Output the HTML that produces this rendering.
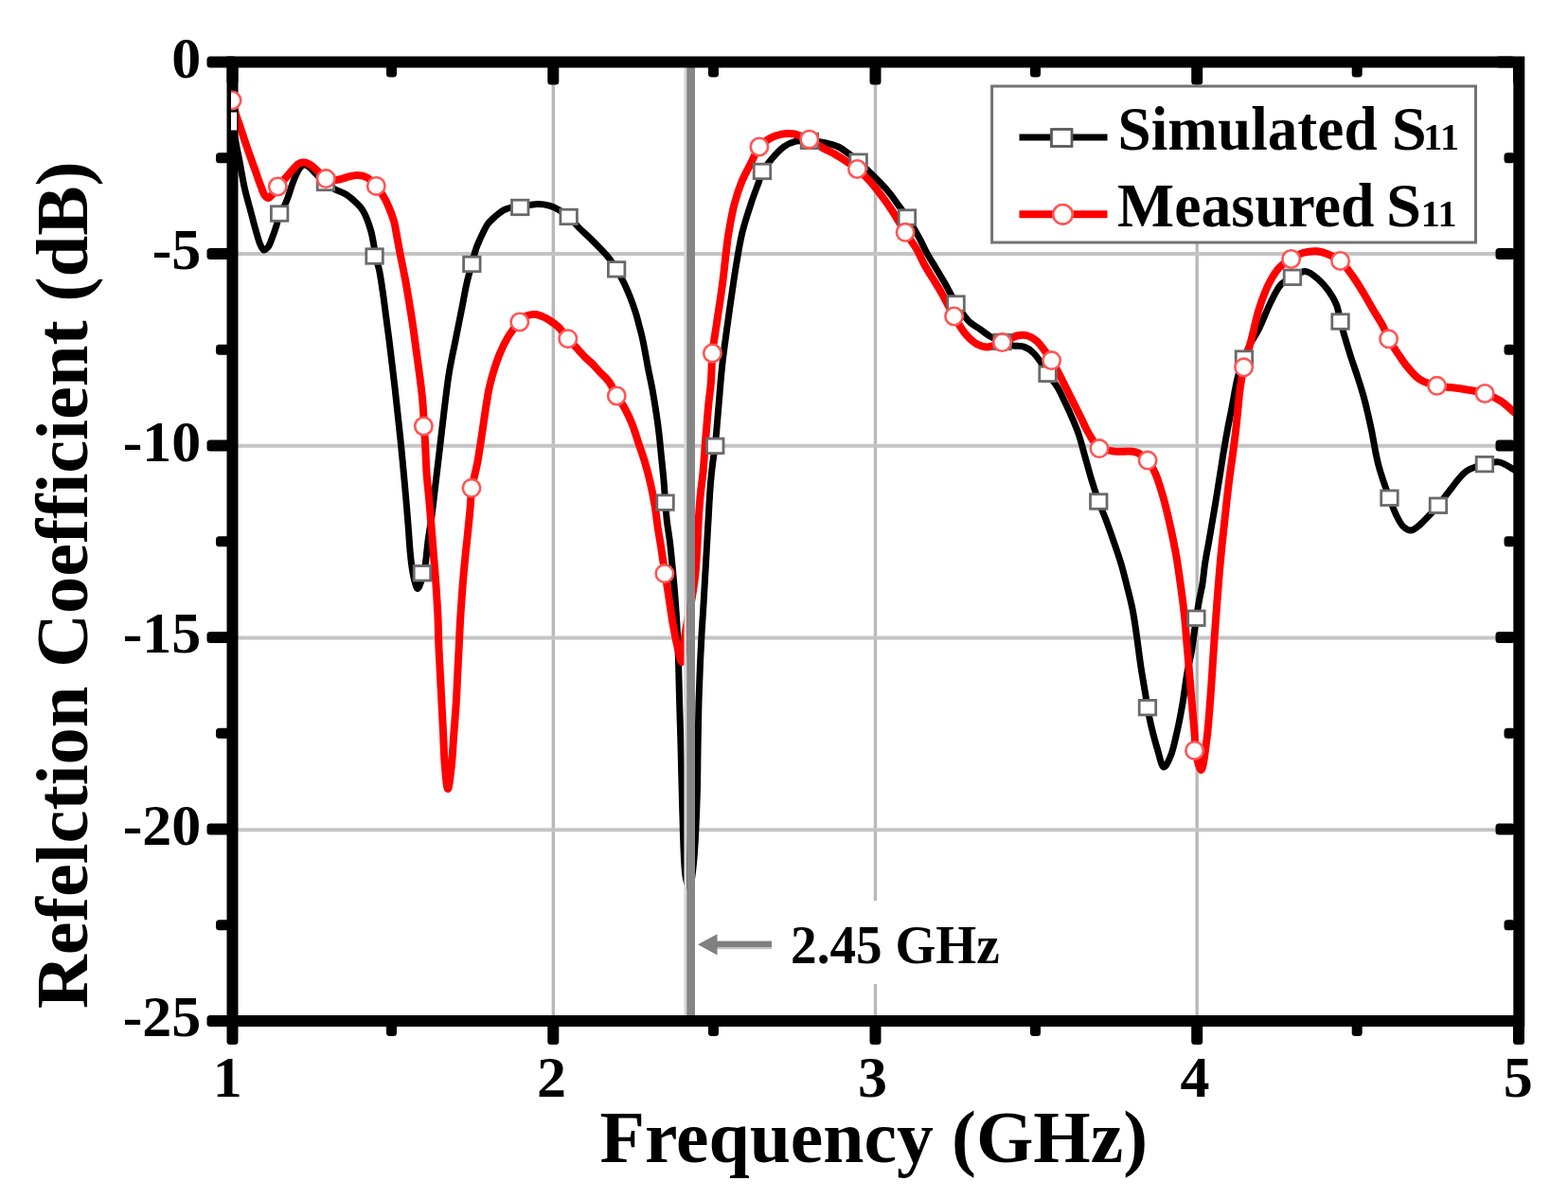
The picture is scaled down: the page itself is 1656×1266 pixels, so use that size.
<!DOCTYPE html>
<html><head><meta charset="utf-8"><title>Reflection Coefficient</title>
<style>html,body{margin:0;padding:0;background:#fff;overflow:hidden}svg{display:block}</style>
</head><body>
<svg width="1656" height="1266" viewBox="0 0 1656 1266">
<rect x="0" y="0" width="1656" height="1266" fill="#fff"/>
<line x1="584.3" y1="71" x2="584.3" y2="1072" stroke="#b9b9b9" stroke-width="3.4"/>
<line x1="924.5" y1="71" x2="924.5" y2="1072" stroke="#b9b9b9" stroke-width="3.4"/>
<line x1="1264.2" y1="71" x2="1264.2" y2="1072" stroke="#b9b9b9" stroke-width="3.4"/>
<line x1="251" y1="268.0" x2="1598" y2="268.0" stroke="#c4c4c4" stroke-width="4"/>
<line x1="251" y1="470.8" x2="1598" y2="470.8" stroke="#c4c4c4" stroke-width="4"/>
<line x1="251" y1="673.4" x2="1598" y2="673.4" stroke="#c4c4c4" stroke-width="4"/>
<line x1="251" y1="876.2" x2="1598" y2="876.2" stroke="#c4c4c4" stroke-width="4"/>
<defs><clipPath id="pa"><rect x="244" y="66" width="1360" height="1012"/></clipPath><clipPath id="pm"><rect x="244" y="66" width="1354" height="1006"/></clipPath></defs>
<g clip-path="url(#pa)">
<path d="M245.0,127.5 C246.3,135.0 247.6,142.5 249.0,150.0 C250.4,157.6 252.0,165.1 253.5,173.0 C255.1,181.5 256.6,191.1 258.5,199.4 C260.2,206.9 262.2,213.6 264.1,220.7 C266.0,227.8 267.9,235.4 269.8,242.0 C271.5,247.9 273.1,254.6 275.0,258.5 C276.1,260.9 277.2,263.7 278.6,264.0 C279.9,264.3 281.7,262.5 283.0,261.0 C284.9,258.8 286.1,254.6 287.5,251.0 C289.1,247.0 290.7,242.3 292.0,238.0 C293.3,233.8 293.6,229.2 295.2,225.5 C296.6,222.3 299.0,220.0 300.5,217.0 C302.0,214.0 303.1,211.0 304.4,207.5 C305.9,203.5 307.2,198.4 308.8,194.2 C310.2,190.3 311.8,186.3 313.3,183.2 C314.5,180.8 315.6,178.6 317.0,177.0 C318.2,175.7 319.4,174.2 320.8,174.0 C322.3,173.8 324.2,174.8 326.0,176.0 C328.6,177.7 331.1,181.3 334.0,184.0 C337.1,187.0 340.7,190.3 344.0,193.0 C347.0,195.4 349.7,197.6 353.0,199.5 C356.6,201.6 361.1,202.6 365.0,205.0 C369.3,207.7 374.2,212.1 377.4,215.3 C379.8,217.6 381.4,219.4 383.0,221.9 C384.7,224.6 386.0,227.5 387.4,230.8 C389.0,234.7 390.6,239.6 391.8,244.0 C393.0,248.3 393.7,252.7 394.5,257.0 C395.3,261.3 395.6,265.5 396.5,270.0 C397.5,274.8 399.3,279.3 400.5,285.0 C402.0,292.2 403.3,301.7 404.5,310.0 C405.7,318.3 406.7,326.7 407.8,335.0 C408.9,343.3 410.0,351.7 411.1,360.0 C412.1,368.3 413.1,376.7 414.1,385.0 C415.1,393.3 416.1,401.7 417.1,410.0 C418.0,418.3 418.9,426.7 419.8,435.0 C420.7,443.3 421.6,451.7 422.5,460.0 C423.4,468.3 424.2,476.7 425.0,485.0 C425.8,493.3 426.5,501.7 427.3,510.0 C428.0,518.3 428.8,526.7 429.5,535.0 C430.2,543.3 430.8,551.7 431.5,560.0 C432.1,568.3 432.6,577.5 433.4,585.0 C434.0,591.2 434.6,596.8 435.5,602.0 C436.2,606.4 436.9,610.5 438.0,614.0 C438.9,616.8 439.9,621.5 441.0,621.5 C442.3,621.5 444.2,615.6 445.5,612.0 C447.0,607.7 448.0,603.0 449.0,597.4 C450.3,589.8 450.9,579.4 452.1,570.6 C453.3,562.0 454.8,553.9 456.0,545.0 C457.3,535.4 458.4,524.5 459.5,515.0 C460.5,506.3 461.5,498.7 462.5,490.0 C463.6,480.5 464.8,470.0 466.0,460.0 C467.2,450.0 468.2,440.7 469.5,430.0 C471.0,417.8 472.7,403.0 474.8,390.6 C476.7,379.5 479.0,369.5 481.1,359.0 C483.2,348.5 485.3,337.7 487.4,327.4 C489.4,317.4 491.2,306.7 493.2,298.0 C494.8,290.9 496.6,285.2 498.3,279.0 C499.9,273.2 501.1,267.4 503.0,262.0 C504.8,256.9 507.1,252.0 509.3,247.5 C511.3,243.5 512.9,239.5 515.4,236.2 C517.8,233.0 520.9,230.5 523.7,228.0 C526.4,225.7 529.1,223.3 531.9,221.8 C534.3,220.5 536.4,219.9 539.0,219.3 C542.1,218.6 545.3,218.8 549.2,218.3 C554.4,217.6 561.9,215.6 567.4,215.5 C572.0,215.4 576.1,216.0 580.0,217.1 C583.6,218.1 586.7,219.6 590.0,221.5 C593.6,223.5 597.2,226.0 600.6,229.0 C604.4,232.3 607.9,236.9 611.6,240.6 C615.2,244.2 619.0,247.5 622.7,251.1 C626.4,254.7 630.2,258.4 633.7,262.1 C637.0,265.6 640.3,268.9 643.2,272.6 C646.1,276.3 648.6,280.3 651.1,284.3 C653.6,288.4 656.1,293.0 658.2,297.1 C660.0,300.7 661.4,303.8 662.9,307.4 C664.5,311.2 666.1,315.2 667.6,319.2 C669.0,323.1 670.4,327.1 671.6,331.1 C672.8,335.0 673.8,339.0 674.8,342.9 C675.9,346.9 676.9,350.6 677.9,354.8 C679.0,359.5 680.0,364.7 681.0,370.0 C682.1,375.6 683.0,381.2 684.2,387.5 C685.6,394.8 687.5,403.3 689.0,411.2 C690.4,419.1 691.7,427.0 692.9,434.9 C694.1,442.8 695.2,450.8 696.1,458.7 C697.0,466.6 697.7,474.5 698.5,482.4 C699.3,490.3 700.2,498.1 700.9,506.1 C701.6,514.2 702.1,523.0 702.7,530.6 C703.2,537.3 703.6,543.0 704.3,549.6 C705.1,556.7 706.4,563.6 707.4,571.6 C708.6,581.2 709.6,592.7 710.6,603.2 C711.6,613.7 712.5,624.3 713.3,634.8 C714.1,645.3 714.8,655.9 715.3,666.4 C715.8,676.9 716.1,686.7 716.5,698.0 C716.9,711.0 717.2,725.6 717.6,740.0 C718.0,755.3 718.5,770.5 719.0,787.4 C719.5,807.0 720.0,831.0 720.6,850.6 C721.1,867.5 721.5,884.9 722.1,898.0 C722.5,907.4 722.8,915.6 723.6,922.0 C724.2,926.4 724.7,930.4 725.8,933.0 C726.5,934.6 727.6,936.6 728.3,936.5 C729.3,936.3 729.8,931.5 730.5,928.0 C731.5,922.4 732.3,914.0 733.0,906.0 C733.8,896.4 734.4,885.5 734.9,874.3 C735.5,861.9 736.0,848.6 736.4,834.8 C736.8,819.7 736.8,803.2 737.1,787.4 C737.4,771.6 737.6,755.1 738.0,740.0 C738.4,726.1 738.9,712.8 739.5,700.0 C740.0,688.3 740.6,677.4 741.2,666.4 C741.8,655.7 742.6,645.3 743.2,634.8 C743.8,624.3 744.4,613.7 745.0,603.2 C745.6,592.7 746.2,581.7 746.8,571.6 C747.3,562.4 747.7,554.5 748.3,545.0 C748.9,534.1 749.6,520.3 750.5,510.0 C751.2,501.8 751.9,494.9 752.8,488.0 C753.6,481.9 754.5,477.4 755.3,470.8 C756.3,462.0 757.1,450.2 758.0,440.0 C758.9,429.9 759.6,419.8 760.5,410.0 C761.3,400.5 762.0,392.0 763.1,382.1 C764.4,370.6 766.4,356.9 768.0,345.0 C769.5,333.9 770.9,323.7 772.5,313.0 C774.1,302.1 775.6,291.0 777.5,280.0 C779.4,268.8 781.1,257.4 783.7,246.4 C786.3,235.6 790.0,224.3 793.2,214.8 C795.8,206.8 798.9,199.0 801.1,193.0 C802.6,188.7 803.0,185.8 805.0,182.0 C807.4,177.3 811.5,171.9 815.3,167.4 C819.1,162.9 823.5,157.9 828.0,154.8 C832.0,152.1 836.2,150.3 840.6,149.2 C845.1,148.1 850.2,148.3 855.0,148.5 C860.0,148.7 865.1,149.5 870.0,150.5 C875.0,151.6 880.4,152.8 884.8,154.8 C888.9,156.7 892.3,159.3 895.9,161.9 C899.6,164.6 902.9,167.4 906.6,170.7 C911.0,174.6 916.2,179.5 920.5,183.7 C924.4,187.5 928.1,191.0 931.6,194.8 C935.0,198.4 938.2,202.1 941.1,205.8 C943.9,209.4 946.3,213.1 949.0,216.9 C951.9,221.0 954.8,224.6 958.0,229.5 C962.1,235.8 967.4,244.8 971.1,251.6 C974.2,257.2 976.1,262.2 979.0,267.4 C981.9,272.7 985.3,277.9 988.5,283.2 C991.6,288.5 994.6,293.3 997.9,299.0 C1001.6,305.5 1005.2,313.3 1009.5,320.0 C1013.8,326.8 1018.7,334.7 1023.5,339.5 C1027.2,343.1 1031.1,344.8 1034.8,347.4 C1038.5,350.0 1041.9,353.0 1045.8,355.3 C1049.7,357.6 1053.9,359.4 1058.0,361.0 C1061.8,362.5 1065.5,363.9 1069.5,364.8 C1073.6,365.7 1078.3,365.0 1082.1,366.4 C1085.7,367.7 1088.9,370.2 1091.6,372.7 C1094.3,375.2 1096.2,378.3 1098.5,381.6 C1101.2,385.5 1103.6,390.4 1106.6,394.8 C1109.7,399.5 1113.9,404.0 1116.9,409.0 C1119.9,414.0 1122.2,419.4 1124.8,424.8 C1127.5,430.4 1130.3,436.5 1132.7,442.2 C1135.0,447.6 1137.0,452.1 1139.0,458.0 C1141.4,465.0 1143.6,473.9 1145.8,481.7 C1148.0,489.3 1149.8,496.5 1152.1,504.2 C1154.6,512.4 1157.5,521.7 1160.3,529.5 C1162.8,536.3 1165.4,541.9 1167.9,548.5 C1170.6,555.6 1173.2,563.1 1175.8,570.6 C1178.5,578.3 1181.3,586.4 1183.7,594.3 C1186.1,602.2 1188.0,610.0 1190.0,618.0 C1192.1,626.2 1194.3,634.6 1196.0,643.0 C1197.7,651.3 1198.7,658.9 1200.0,668.0 C1201.6,678.7 1203.1,692.1 1204.8,703.2 C1206.3,713.2 1208.2,723.6 1209.5,731.6 C1210.5,737.5 1210.9,741.7 1211.9,747.1 C1213.0,753.2 1214.2,759.7 1215.8,766.4 C1217.6,773.9 1219.8,782.6 1222.1,790.1 C1224.3,797.1 1226.5,809.7 1229.2,810.0 C1231.4,810.2 1234.4,802.8 1236.4,798.0 C1239.1,791.6 1240.7,782.8 1242.7,774.3 C1245.0,764.6 1247.2,753.3 1249.0,742.7 C1250.8,732.2 1252.0,720.9 1253.7,711.1 C1255.2,702.6 1257.2,695.2 1258.5,687.4 C1259.8,679.8 1260.7,671.4 1261.6,665.0 C1262.3,660.3 1262.7,657.2 1263.4,652.7 C1264.3,647.1 1265.4,640.0 1266.5,633.9 C1267.5,628.2 1268.8,623.2 1269.8,617.3 C1270.9,610.5 1271.5,602.6 1272.6,595.2 C1273.7,587.8 1275.2,580.5 1276.5,573.1 C1277.8,565.7 1279.1,558.2 1280.3,551.0 C1281.5,544.0 1282.6,537.8 1283.8,530.5 C1285.2,522.0 1286.7,512.1 1288.2,502.9 C1289.7,493.7 1291.1,483.9 1292.6,475.2 C1293.9,467.4 1295.1,460.5 1296.5,453.1 C1297.9,445.7 1299.5,438.2 1300.9,431.0 C1302.2,424.2 1303.3,417.2 1304.5,411.0 C1305.6,405.6 1306.3,401.1 1307.8,396.0 C1309.4,390.3 1311.8,384.2 1314.0,378.5 C1316.2,372.9 1318.4,367.3 1321.0,362.0 C1323.6,356.9 1326.6,353.2 1329.5,347.4 C1333.5,339.6 1337.8,327.4 1342.1,319.0 C1345.7,311.9 1348.8,304.5 1353.2,300.0 C1356.7,296.5 1360.9,295.1 1365.0,292.9 C1369.3,290.6 1374.0,286.2 1378.5,286.5 C1383.2,286.8 1388.5,291.7 1392.7,295.3 C1396.9,298.9 1400.5,303.4 1403.7,307.9 C1406.8,312.3 1409.6,317.0 1411.6,322.1 C1413.7,327.5 1414.1,333.6 1415.6,339.5 C1417.2,345.7 1419.2,352.1 1421.1,358.5 C1423.1,365.2 1425.2,372.3 1427.4,379.0 C1429.5,385.5 1431.7,391.5 1433.8,398.0 C1436.0,404.7 1438.2,411.8 1440.1,418.5 C1441.9,424.9 1443.4,431.4 1444.8,437.5 C1446.1,443.1 1447.0,447.2 1448.4,453.7 C1450.5,463.7 1452.7,479.5 1456.0,491.7 C1459.1,503.5 1463.8,516.1 1467.4,525.8 C1470.1,533.1 1472.3,539.3 1475.0,544.7 C1477.2,549.1 1479.2,553.4 1482.0,556.0 C1484.3,558.1 1487.4,560.1 1490.1,560.0 C1492.8,559.9 1495.7,557.2 1498.0,555.5 C1500.1,554.0 1501.2,552.6 1503.4,550.4 C1507.3,546.5 1514.0,539.6 1519.0,533.7 C1524.1,527.6 1528.6,520.5 1533.7,514.4 C1538.6,508.4 1543.0,501.4 1548.9,497.3 C1554.5,493.5 1561.8,491.7 1567.9,490.1 C1573.1,488.7 1578.1,487.1 1583.0,487.9 C1588.2,488.7 1594.0,493.2 1598.2,495.5 C1601.3,497.1 1603.4,498.5 1606.0,500.0" fill="none" stroke="#000" stroke-width="7" stroke-linejoin="round" stroke-linecap="round"/>
<path d="M245.0,106.0 C246.5,111.3 247.9,116.9 249.5,122.0 C251.0,126.7 252.5,130.5 254.2,135.5 C256.3,141.8 258.9,149.8 261.3,156.8 C263.6,163.6 266.0,170.1 268.4,176.7 C270.8,183.3 273.3,191.1 275.5,196.6 C277.0,200.5 278.1,204.4 279.8,206.5 C280.9,207.8 282.2,209.1 283.5,209.0 C285.0,208.9 286.5,206.7 288.0,205.0 C289.8,202.9 291.2,199.7 293.3,197.0 C295.8,193.8 299.5,190.4 302.5,187.0 C305.4,183.7 308.5,179.6 311.0,177.0 C312.8,175.1 314.1,173.4 316.0,172.5 C317.7,171.7 319.9,171.3 321.7,171.5 C323.5,171.7 325.3,172.6 327.0,173.5 C328.8,174.5 330.3,175.9 332.0,177.3 C334.0,179.0 336.0,181.1 338.0,183.0 C340.1,184.9 342.0,187.4 344.3,188.6 C346.4,189.6 348.7,189.8 351.0,190.0 C353.3,190.2 355.7,189.9 358.2,189.5 C361.0,189.0 363.9,187.7 367.0,187.0 C370.3,186.2 373.9,185.0 377.3,185.1 C380.8,185.2 384.5,185.8 387.7,187.5 C391.2,189.4 394.4,193.1 397.3,196.4 C400.2,199.8 402.8,203.7 405.1,207.5 C407.3,211.1 408.9,214.5 410.6,218.6 C412.6,223.3 414.7,228.8 416.2,234.0 C417.6,239.2 418.2,244.4 419.3,250.0 C420.5,256.3 421.6,263.0 423.0,270.0 C424.5,277.9 426.4,286.7 428.0,295.0 C429.5,303.3 430.9,311.7 432.3,320.0 C433.7,328.3 435.0,336.7 436.2,345.0 C437.4,353.3 438.5,361.7 439.6,370.0 C440.7,378.3 441.9,386.7 443.0,395.0 C444.1,403.3 445.3,412.6 446.0,420.0 C446.6,425.9 446.9,430.8 447.2,436.0 C447.4,440.8 447.3,445.5 447.6,450.0 C447.8,454.2 448.4,457.6 448.7,462.0 C449.1,467.4 449.3,473.8 449.6,480.0 C449.9,486.5 450.1,493.1 450.6,500.0 C451.1,507.5 452.0,514.9 452.8,523.2 C453.7,532.9 454.6,544.3 455.5,554.8 C456.4,565.3 457.2,575.9 458.0,586.4 C458.8,596.9 459.8,607.4 460.5,618.0 C461.2,628.6 461.9,639.4 462.4,650.0 C462.9,660.6 463.0,671.1 463.4,681.6 C463.8,692.1 464.5,702.7 465.0,713.2 C465.5,723.7 466.1,734.3 466.6,744.8 C467.1,755.3 467.7,765.9 468.2,776.4 C468.7,786.9 468.9,798.1 469.8,808.0 C470.6,816.8 471.8,833.0 473.0,833.0 C474.2,833.0 475.9,816.8 476.9,808.0 C478.0,798.1 478.4,786.9 479.2,776.4 C480.0,765.9 480.9,755.3 481.6,744.8 C482.3,734.3 482.7,723.7 483.2,713.2 C483.7,702.7 484.3,692.1 484.8,681.6 C485.3,671.1 485.8,659.3 486.4,650.0 C486.8,642.6 487.3,637.2 487.8,630.0 C488.4,621.5 489.1,611.8 490.0,602.2 C490.9,592.0 492.1,581.1 493.2,570.6 C494.3,560.1 495.5,548.7 496.4,539.0 C497.2,530.7 497.1,524.1 498.3,516.0 C499.7,506.9 502.7,496.9 504.5,487.0 C506.4,476.6 507.9,465.2 509.5,455.0 C510.9,445.6 512.1,436.5 513.5,428.0 C514.8,420.4 515.5,414.2 517.4,406.4 C519.8,396.8 523.6,384.0 527.3,374.8 C530.3,367.3 533.3,361.0 537.0,355.0 C540.5,349.5 545.0,343.9 548.8,340.0 C551.6,337.1 554.0,334.5 557.0,333.2 C559.8,332.0 563.0,331.7 566.0,332.0 C569.0,332.3 572.5,334.1 575.0,335.2 C577.0,336.1 578.1,336.8 580.0,338.0 C582.7,339.7 586.4,342.1 589.5,345.0 C593.1,348.4 596.2,353.6 599.8,357.7 C603.5,361.9 607.9,366.3 611.3,369.9 C614.0,372.8 616.0,375.3 618.4,377.7 C620.7,380.0 623.3,381.8 625.6,384.1 C628.0,386.5 630.3,389.4 632.7,391.9 C635.0,394.4 637.7,396.7 639.8,399.0 C641.6,401.0 642.9,402.5 644.5,405.0 C646.7,408.4 648.8,413.7 651.3,418.0 C653.9,422.5 657.3,426.6 660.0,431.5 C662.9,436.7 665.6,442.6 667.9,448.5 C670.3,454.6 672.1,461.1 674.2,467.4 C676.3,473.7 678.6,479.7 680.6,486.4 C682.8,493.8 685.1,502.2 686.9,510.1 C688.7,518.0 690.3,525.9 691.6,533.8 C692.9,541.7 693.7,550.1 694.8,557.5 C695.8,564.1 696.9,569.9 697.9,576.0 C698.8,582.0 699.7,588.4 700.5,593.7 C701.2,598.1 701.8,601.1 702.5,605.6 C703.5,611.7 704.6,619.1 705.8,626.9 C707.3,636.4 708.9,648.7 710.6,658.5 C712.1,667.0 713.6,675.0 715.3,682.2 C716.8,688.3 718.8,699.1 720.0,699.0 C721.6,698.9 722.0,680.5 723.2,672.0 C724.3,664.3 725.7,657.2 727.0,650.0 C728.3,643.2 729.8,637.1 731.0,630.0 C732.3,622.1 733.6,613.7 734.5,605.0 C735.5,595.5 735.9,585.0 736.5,575.0 C737.1,565.0 737.4,554.5 738.0,545.0 C738.6,536.3 739.2,527.9 740.0,520.0 C740.7,513.0 741.6,507.8 742.4,500.0 C743.5,489.0 744.4,472.9 745.5,460.0 C746.5,447.9 747.5,435.0 748.5,425.0 C749.3,417.4 750.2,412.5 750.8,405.0 C751.6,395.6 751.4,383.6 752.4,373.0 C753.4,362.3 755.4,352.3 757.0,341.0 C758.9,328.2 761.3,313.1 763.0,300.0 C764.6,287.9 765.8,274.8 767.0,265.0 C767.9,257.8 768.3,253.4 769.5,246.4 C771.0,237.2 773.2,224.5 775.8,214.8 C778.1,206.3 780.7,198.5 783.7,191.1 C786.5,184.3 790.1,178.2 793.2,172.1 C796.1,166.4 798.2,160.0 801.9,155.5 C805.2,151.4 809.6,148.1 813.7,145.8 C817.3,143.8 820.9,142.6 824.8,141.8 C828.8,141.0 833.6,140.9 837.4,141.3 C840.6,141.7 843.1,142.6 846.0,143.6 C848.9,144.6 851.6,145.5 854.8,147.2 C859.1,149.4 864.3,153.6 869.0,156.3 C873.3,158.7 877.5,160.3 881.7,162.7 C886.0,165.1 890.3,167.9 894.3,170.6 C898.2,173.2 901.6,175.4 905.4,178.5 C909.8,182.2 914.7,186.9 919.0,191.6 C923.4,196.5 927.6,202.1 931.6,207.4 C935.5,212.6 938.9,217.4 942.7,223.2 C947.1,229.9 951.7,238.4 956.1,245.3 C960.1,251.5 964.5,256.9 967.9,262.7 C971.0,268.0 972.9,273.3 975.8,278.5 C978.7,283.8 982.1,289.0 985.3,294.3 C988.5,299.6 991.5,304.2 994.8,310.1 C998.8,317.2 1003.2,326.5 1007.6,334.0 C1011.7,341.0 1016.0,348.6 1020.5,353.7 C1024.1,357.8 1027.7,361.1 1031.6,363.2 C1035.1,365.1 1038.7,366.4 1042.7,366.4 C1047.5,366.4 1053.3,363.6 1058.5,361.6 C1063.8,359.6 1069.3,355.6 1074.2,354.5 C1078.1,353.7 1081.9,353.6 1085.3,354.5 C1088.7,355.4 1092.0,357.6 1094.8,360.0 C1097.8,362.5 1100.1,366.2 1102.7,369.5 C1105.4,373.0 1108.1,376.6 1110.6,380.6 C1113.4,385.0 1115.9,389.9 1118.5,394.8 C1121.2,399.9 1123.8,405.3 1126.4,410.6 C1129.0,415.9 1131.7,421.1 1134.3,426.4 C1136.9,431.7 1139.6,436.9 1142.2,442.2 C1144.8,447.5 1147.0,453.0 1150.1,458.0 C1153.2,463.1 1156.3,469.4 1161.0,472.5 C1165.5,475.5 1171.5,475.8 1177.4,476.6 C1184.2,477.6 1193.4,475.4 1199.5,477.4 C1204.6,479.1 1208.7,482.4 1212.1,486.1 C1215.5,489.8 1217.6,494.3 1220.0,499.5 C1223.0,506.1 1225.5,514.7 1228.0,523.2 C1230.8,532.9 1233.4,544.2 1235.8,554.8 C1238.2,565.3 1240.3,575.8 1242.2,586.4 C1244.0,596.9 1245.4,607.5 1246.9,618.0 C1248.3,628.5 1249.8,639.2 1250.9,649.6 C1252.0,659.8 1252.6,669.5 1253.5,680.0 C1254.5,691.3 1255.5,703.5 1256.5,715.0 C1257.5,726.2 1258.4,737.6 1259.3,748.0 C1260.1,757.5 1261.0,766.7 1261.6,775.0 C1262.2,782.2 1261.8,788.6 1263.0,795.0 C1264.2,801.2 1266.8,813.1 1268.5,813.0 C1270.7,812.9 1272.7,793.6 1274.3,782.2 C1276.2,768.1 1277.3,750.4 1278.5,734.8 C1279.7,719.7 1280.6,703.3 1281.5,690.0 C1282.2,679.4 1282.8,670.9 1283.5,661.5 C1284.2,652.2 1284.8,643.1 1285.5,633.9 C1286.2,624.7 1286.9,615.9 1287.7,606.3 C1288.6,595.7 1289.8,582.8 1290.8,573.1 C1291.6,565.6 1292.3,559.9 1293.0,553.0 C1293.8,545.7 1294.5,538.4 1295.4,530.5 C1296.4,521.8 1297.5,512.1 1298.7,502.9 C1299.9,493.7 1301.4,483.9 1302.5,475.2 C1303.5,467.4 1304.5,460.5 1305.3,453.1 C1306.1,445.7 1306.8,438.3 1307.5,431.0 C1308.2,423.9 1308.7,417.1 1309.7,410.0 C1310.7,402.7 1311.8,395.7 1313.6,387.8 C1315.6,378.7 1319.0,368.5 1321.6,358.5 C1324.3,348.2 1326.3,337.1 1329.5,326.9 C1332.6,317.1 1336.4,306.5 1340.6,298.5 C1344.0,292.0 1347.4,286.3 1351.6,282.0 C1355.2,278.3 1359.5,276.0 1363.6,273.5 C1367.6,271.0 1371.5,268.4 1376.0,267.0 C1380.7,265.6 1386.2,264.9 1391.1,265.3 C1395.9,265.7 1400.8,267.7 1405.0,269.5 C1408.9,271.2 1412.1,272.6 1415.6,275.5 C1420.2,279.4 1424.9,286.4 1429.0,292.1 C1433.0,297.7 1436.5,303.5 1440.1,309.5 C1443.8,315.7 1447.5,322.5 1451.1,328.5 C1454.4,334.0 1457.9,339.2 1460.6,344.3 C1463.0,348.9 1464.1,353.2 1466.6,357.8 C1469.4,363.1 1473.5,369.0 1476.9,374.1 C1480.1,378.8 1482.8,383.1 1486.4,387.4 C1490.3,392.0 1494.4,397.4 1499.6,400.7 C1504.8,404.0 1511.7,405.9 1517.6,407.3 C1523.0,408.6 1528.1,408.5 1533.7,409.2 C1539.8,410.0 1546.7,410.9 1552.7,412.0 C1558.1,413.0 1563.0,413.7 1568.2,415.5 C1573.8,417.4 1579.7,420.1 1584.9,423.4 C1590.3,426.8 1596.1,432.8 1600.0,436.0 C1602.5,438.0 1604.0,439.3 1606.0,441.0" fill="none" stroke="#ff0000" stroke-width="8" stroke-linejoin="round" stroke-linecap="round"/>
</g>
<line x1="723.8" y1="71" x2="723.8" y2="1072" stroke="#d8d8d8" stroke-width="2.8"/>
<line x1="729.6" y1="71" x2="729.6" y2="1072" stroke="#868686" stroke-width="8.8"/>
<rect x="755" y="993.6" width="60" height="6.6" fill="#808080"/>
<rect x="755" y="1000.2" width="60" height="2" fill="#c0c0c0"/>
<polygon points="737,997.2 757.5,986.2 757.5,1008.6" fill="#808080"/>
<rect x="245.5" y="65.5" width="1358.8" height="1012.5" fill="none" stroke="#000" stroke-width="12"/>
<rect x="218.50" y="59.50" width="31.50" height="12.00" rx="3.5" fill="#000"/>
<rect x="1579.50" y="59.50" width="20.50" height="12.00" rx="3.5" fill="#000"/>
<rect x="228.00" y="161.25" width="22.00" height="11.00" rx="3.5" fill="#000"/>
<rect x="1588.50" y="161.25" width="11.50" height="11.00" rx="3.5" fill="#000"/>
<rect x="218.50" y="262.00" width="31.50" height="12.00" rx="3.5" fill="#000"/>
<rect x="1579.50" y="262.00" width="20.50" height="12.00" rx="3.5" fill="#000"/>
<rect x="228.00" y="363.75" width="22.00" height="11.00" rx="3.5" fill="#000"/>
<rect x="1588.50" y="363.75" width="11.50" height="11.00" rx="3.5" fill="#000"/>
<rect x="218.50" y="464.50" width="31.50" height="12.00" rx="3.5" fill="#000"/>
<rect x="1579.50" y="464.50" width="20.50" height="12.00" rx="3.5" fill="#000"/>
<rect x="228.00" y="566.25" width="22.00" height="11.00" rx="3.5" fill="#000"/>
<rect x="1588.50" y="566.25" width="11.50" height="11.00" rx="3.5" fill="#000"/>
<rect x="218.50" y="667.00" width="31.50" height="12.00" rx="3.5" fill="#000"/>
<rect x="1579.50" y="667.00" width="20.50" height="12.00" rx="3.5" fill="#000"/>
<rect x="228.00" y="768.75" width="22.00" height="11.00" rx="3.5" fill="#000"/>
<rect x="1588.50" y="768.75" width="11.50" height="11.00" rx="3.5" fill="#000"/>
<rect x="218.50" y="869.50" width="31.50" height="12.00" rx="3.5" fill="#000"/>
<rect x="1579.50" y="869.50" width="20.50" height="12.00" rx="3.5" fill="#000"/>
<rect x="228.00" y="971.25" width="22.00" height="11.00" rx="3.5" fill="#000"/>
<rect x="1588.50" y="971.25" width="11.50" height="11.00" rx="3.5" fill="#000"/>
<rect x="218.50" y="1072.00" width="31.50" height="12.00" rx="3.5" fill="#000"/>
<rect x="1579.50" y="1072.00" width="20.50" height="12.00" rx="3.5" fill="#000"/>
<rect x="239.50" y="1072.00" width="12.00" height="31.00" rx="3.5" fill="#000"/>
<rect x="239.50" y="60.00" width="12.00" height="29.50" rx="3.5" fill="#000"/>
<rect x="408.00" y="1072.00" width="11.00" height="22.00" rx="3.5" fill="#000"/>
<rect x="408.00" y="60.00" width="11.00" height="21.50" rx="3.5" fill="#000"/>
<rect x="578.30" y="1072.00" width="12.00" height="31.00" rx="3.5" fill="#000"/>
<rect x="578.30" y="60.00" width="12.00" height="29.50" rx="3.5" fill="#000"/>
<rect x="748.00" y="1072.00" width="11.00" height="22.00" rx="3.5" fill="#000"/>
<rect x="748.00" y="60.00" width="11.00" height="21.50" rx="3.5" fill="#000"/>
<rect x="918.50" y="1072.00" width="12.00" height="31.00" rx="3.5" fill="#000"/>
<rect x="918.50" y="60.00" width="12.00" height="29.50" rx="3.5" fill="#000"/>
<rect x="1088.00" y="1072.00" width="11.00" height="22.00" rx="3.5" fill="#000"/>
<rect x="1088.00" y="60.00" width="11.00" height="21.50" rx="3.5" fill="#000"/>
<rect x="1258.20" y="1072.00" width="12.00" height="31.00" rx="3.5" fill="#000"/>
<rect x="1258.20" y="60.00" width="12.00" height="29.50" rx="3.5" fill="#000"/>
<rect x="1427.70" y="1072.00" width="11.00" height="22.00" rx="3.5" fill="#000"/>
<rect x="1427.70" y="60.00" width="11.00" height="21.50" rx="3.5" fill="#000"/>
<rect x="1598.00" y="1072.00" width="12.00" height="31.00" rx="3.5" fill="#000"/>
<rect x="1598.00" y="60.00" width="12.00" height="29.50" rx="3.5" fill="#000"/>
<g clip-path="url(#pm)">
<rect x="244" y="118.5" width="6.2" height="19" fill="#fff"/>
<rect x="286.4" y="217.8" width="17.5" height="15.5" fill="#fff" stroke="#6a6a6a" stroke-width="2.8"/>
<rect x="335.2" y="185.2" width="17.5" height="15.5" fill="#fff" stroke="#6a6a6a" stroke-width="2.8"/>
<rect x="386.8" y="262.8" width="17.5" height="15.5" fill="#fff" stroke="#6a6a6a" stroke-width="2.8"/>
<rect x="437.2" y="597.5" width="17.5" height="15.5" fill="#fff" stroke="#6a6a6a" stroke-width="2.8"/>
<rect x="489.6" y="271.2" width="17.5" height="15.5" fill="#fff" stroke="#6a6a6a" stroke-width="2.8"/>
<rect x="540.5" y="211.2" width="17.5" height="15.5" fill="#fff" stroke="#6a6a6a" stroke-width="2.8"/>
<rect x="591.9" y="221.2" width="17.5" height="15.5" fill="#fff" stroke="#6a6a6a" stroke-width="2.8"/>
<rect x="642.4" y="276.6" width="17.5" height="15.5" fill="#fff" stroke="#6a6a6a" stroke-width="2.8"/>
<rect x="693.8" y="522.9" width="17.5" height="15.5" fill="#fff" stroke="#6a6a6a" stroke-width="2.8"/>
<rect x="746.5" y="463.1" width="17.5" height="15.5" fill="#fff" stroke="#6a6a6a" stroke-width="2.8"/>
<rect x="796.2" y="173.2" width="17.5" height="15.5" fill="#fff" stroke="#6a6a6a" stroke-width="2.8"/>
<rect x="846.2" y="141.2" width="17.5" height="15.5" fill="#fff" stroke="#6a6a6a" stroke-width="2.8"/>
<rect x="897.9" y="162.9" width="17.5" height="15.5" fill="#fff" stroke="#6a6a6a" stroke-width="2.8"/>
<rect x="949.2" y="221.8" width="17.5" height="15.5" fill="#fff" stroke="#6a6a6a" stroke-width="2.8"/>
<rect x="1000.8" y="312.8" width="17.5" height="15.5" fill="#fff" stroke="#6a6a6a" stroke-width="2.8"/>
<rect x="1049.8" y="353.2" width="17.5" height="15.5" fill="#fff" stroke="#6a6a6a" stroke-width="2.8"/>
<rect x="1097.8" y="387.1" width="17.5" height="15.5" fill="#fff" stroke="#6a6a6a" stroke-width="2.8"/>
<rect x="1151.5" y="521.8" width="17.5" height="15.5" fill="#fff" stroke="#6a6a6a" stroke-width="2.8"/>
<rect x="1203.2" y="739.4" width="17.5" height="15.5" fill="#fff" stroke="#6a6a6a" stroke-width="2.8"/>
<rect x="1254.7" y="645.0" width="17.5" height="15.5" fill="#fff" stroke="#6a6a6a" stroke-width="2.8"/>
<rect x="1305.2" y="370.8" width="17.5" height="15.5" fill="#fff" stroke="#6a6a6a" stroke-width="2.8"/>
<rect x="1356.2" y="285.1" width="17.5" height="15.5" fill="#fff" stroke="#6a6a6a" stroke-width="2.8"/>
<rect x="1406.8" y="331.8" width="17.5" height="15.5" fill="#fff" stroke="#6a6a6a" stroke-width="2.8"/>
<rect x="1458.7" y="518.0" width="17.5" height="15.5" fill="#fff" stroke="#6a6a6a" stroke-width="2.8"/>
<rect x="1510.2" y="526.0" width="17.5" height="15.5" fill="#fff" stroke="#6a6a6a" stroke-width="2.8"/>
<rect x="1559.2" y="482.4" width="17.5" height="15.5" fill="#fff" stroke="#6a6a6a" stroke-width="2.8"/>
<circle cx="245.0" cy="106.0" r="9.2" fill="#fff" stroke="#ff5555" stroke-width="2.6"/>
<circle cx="293.3" cy="197.0" r="9.2" fill="#fff" stroke="#ff5555" stroke-width="2.6"/>
<circle cx="344.3" cy="188.6" r="9.2" fill="#fff" stroke="#ff5555" stroke-width="2.6"/>
<circle cx="397.3" cy="196.4" r="9.2" fill="#fff" stroke="#ff5555" stroke-width="2.6"/>
<circle cx="447.4" cy="450.0" r="9.2" fill="#fff" stroke="#ff5555" stroke-width="2.6"/>
<circle cx="498.0" cy="515.3" r="9.2" fill="#fff" stroke="#ff5555" stroke-width="2.6"/>
<circle cx="548.8" cy="340.0" r="9.2" fill="#fff" stroke="#ff5555" stroke-width="2.6"/>
<circle cx="599.8" cy="357.7" r="9.2" fill="#fff" stroke="#ff5555" stroke-width="2.6"/>
<circle cx="651.3" cy="418.0" r="9.2" fill="#fff" stroke="#ff5555" stroke-width="2.6"/>
<circle cx="701.9" cy="605.6" r="9.2" fill="#fff" stroke="#ff5555" stroke-width="2.6"/>
<circle cx="752.4" cy="373.0" r="9.2" fill="#fff" stroke="#ff5555" stroke-width="2.6"/>
<circle cx="801.9" cy="155.0" r="9.2" fill="#fff" stroke="#ff5555" stroke-width="2.6"/>
<circle cx="854.8" cy="147.2" r="9.2" fill="#fff" stroke="#ff5555" stroke-width="2.6"/>
<circle cx="905.4" cy="178.5" r="9.2" fill="#fff" stroke="#ff5555" stroke-width="2.6"/>
<circle cx="956.1" cy="245.3" r="9.2" fill="#fff" stroke="#ff5555" stroke-width="2.6"/>
<circle cx="1007.6" cy="334.0" r="9.2" fill="#fff" stroke="#ff5555" stroke-width="2.6"/>
<circle cx="1058.5" cy="361.6" r="9.2" fill="#fff" stroke="#ff5555" stroke-width="2.6"/>
<circle cx="1110.6" cy="380.6" r="9.2" fill="#fff" stroke="#ff5555" stroke-width="2.6"/>
<circle cx="1161.0" cy="473.6" r="9.2" fill="#fff" stroke="#ff5555" stroke-width="2.6"/>
<circle cx="1212.1" cy="486.1" r="9.2" fill="#fff" stroke="#ff5555" stroke-width="2.6"/>
<circle cx="1261.6" cy="792.4" r="9.2" fill="#fff" stroke="#ff5555" stroke-width="2.6"/>
<circle cx="1313.6" cy="387.8" r="9.2" fill="#fff" stroke="#ff5555" stroke-width="2.6"/>
<circle cx="1363.6" cy="273.5" r="9.2" fill="#fff" stroke="#ff5555" stroke-width="2.6"/>
<circle cx="1415.6" cy="275.5" r="9.2" fill="#fff" stroke="#ff5555" stroke-width="2.6"/>
<circle cx="1466.6" cy="357.8" r="9.2" fill="#fff" stroke="#ff5555" stroke-width="2.6"/>
<circle cx="1517.6" cy="407.3" r="9.2" fill="#fff" stroke="#ff5555" stroke-width="2.6"/>
<circle cx="1568.2" cy="415.5" r="9.2" fill="#fff" stroke="#ff5555" stroke-width="2.6"/>
</g>
<text x="212.3" y="81.7" font-family="'Liberation Serif', serif" font-weight="bold" font-size="62" text-anchor="end">0</text>
<text x="212.3" y="284.2" font-family="'Liberation Serif', serif" font-weight="bold" font-size="62" text-anchor="end">-5</text>
<text x="212.3" y="486.7" font-family="'Liberation Serif', serif" font-weight="bold" font-size="62" text-anchor="end">-10</text>
<text x="212.3" y="689.2" font-family="'Liberation Serif', serif" font-weight="bold" font-size="62" text-anchor="end">-15</text>
<text x="212.3" y="891.7" font-family="'Liberation Serif', serif" font-weight="bold" font-size="62" text-anchor="end">-20</text>
<text x="212.3" y="1094.2" font-family="'Liberation Serif', serif" font-weight="bold" font-size="62" text-anchor="end">-25</text>
<text x="240.2" y="1158" font-family="'Liberation Serif', serif" font-weight="bold" font-size="62" text-anchor="middle">1</text>
<text x="582.6" y="1158" font-family="'Liberation Serif', serif" font-weight="bold" font-size="62" text-anchor="middle">2</text>
<text x="921.6" y="1158" font-family="'Liberation Serif', serif" font-weight="bold" font-size="62" text-anchor="middle">3</text>
<text x="1261.9" y="1158" font-family="'Liberation Serif', serif" font-weight="bold" font-size="62" text-anchor="middle">4</text>
<text x="1603.3" y="1158" font-family="'Liberation Serif', serif" font-weight="bold" font-size="62" text-anchor="middle">5</text>
<text x="633.6" y="1227" font-family="'Liberation Serif', serif" font-weight="bold" font-size="77.5" textLength="578.4" lengthAdjust="spacingAndGlyphs">Frequency (GHz)</text>
<text transform="translate(92.1,1063.3) rotate(-90)" x="-1.6" y="0" font-family="'Liberation Serif', serif" font-weight="bold" font-size="78" textLength="894.7" lengthAdjust="spacingAndGlyphs">Refelction Coefficient (dB)</text>
<rect x="828" y="951" width="234" height="88" fill="#fff"/>
<text x="835.1" y="1016.5" font-family="'Liberation Serif', serif" font-weight="bold" font-size="57" textLength="220.7" lengthAdjust="spacingAndGlyphs">2.45 GHz</text>
<rect x="1047.6" y="91" width="510.9" height="165" fill="#fff" stroke="#737373" stroke-width="3"/>
<line x1="1076.5" y1="145" x2="1169.5" y2="145" stroke="#000" stroke-width="7"/>
<rect x="1110.5" y="136.5" width="21.5" height="18" fill="#fff" stroke="#5a5a5a" stroke-width="2.8"/>
<line x1="1076.5" y1="226.3" x2="1169.5" y2="226.3" stroke="#ff0000" stroke-width="8"/>
<circle cx="1122.5" cy="226.3" r="10.3" fill="#fff" stroke="#ff5555" stroke-width="2.6"/>
<text x="1180.6" y="158" font-family="'Liberation Serif', serif" font-weight="bold" font-size="66.5" textLength="274" lengthAdjust="spacingAndGlyphs">Simulated</text>
<text x="1469.8" y="158" font-family="'Liberation Serif', serif" font-weight="bold" font-size="66.5">S</text>
<text x="1503.2" y="158" font-family="'Liberation Serif', serif" font-weight="bold" font-size="40">11</text>
<text x="1180.1" y="239" font-family="'Liberation Serif', serif" font-weight="bold" font-size="66.5" textLength="271.3" lengthAdjust="spacingAndGlyphs">Measured</text>
<text x="1463.9" y="239" font-family="'Liberation Serif', serif" font-weight="bold" font-size="66.5">S</text>
<text x="1500.8" y="239" font-family="'Liberation Serif', serif" font-weight="bold" font-size="40">11</text>
</svg>
</body></html>
